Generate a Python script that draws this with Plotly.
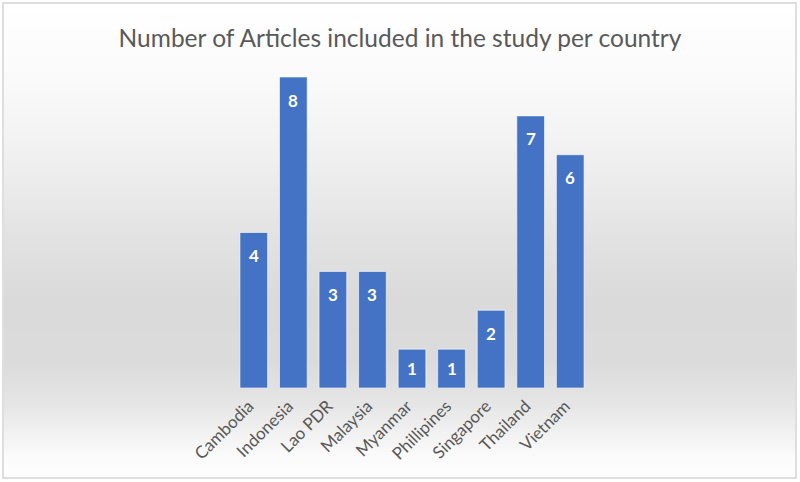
import plotly.graph_objects as go

countries = ["Cambodia", "Indonesia", "Lao PDR", "Malaysia", "Myanmar",
             "Phillipines", "Singapore", "Thailand", "Vietnam"]
articles = [4, 8, 3, 3, 1, 1, 2, 7, 6]

title_text = "Number of Articles included in the study per country"

W, H = 800, 482
L, R, T, B = 234, 590, 77, 388  # plot area pixel box


def px(xp):
    return (xp - L) / (R - L)


def py(yp):
    return (B - yp) / (B - T)


fig = go.Figure()
fig.add_trace(go.Bar(
    x=countries, y=articles,
    marker=dict(color="#4472C4", line=dict(color="rgba(255,255,255,0.6)", width=1)),
    hoverinfo="x+y",
))

# background gradient bands (decoration)
stops = [(3, 255), (80, 250), (150, 241), (240, 226), (300, 218), (360, 219),
         (400, 228), (430, 240), (455, 250), (477, 254)]


def gray_at(y):
    for (y0, g0), (y1, g1) in zip(stops[:-1], stops[1:]):
        if y0 <= y <= y1:
            return g0 + (g1 - g0) * (y - y0) / (y1 - y0)
    return 255


shapes = []
step = 4
y = 4
while y < 477:
    y2 = min(y + step, 477)
    g = int(round(gray_at((y + y2) / 2)))
    shapes.append(dict(type="rect", xref="paper", yref="paper", layer="below",
                       x0=px(4), x1=px(795), y0=py(y2), y1=py(y),
                       fillcolor=f"rgb({g},{g},{g})", line=dict(width=0)))
    y = y2
shapes.append(dict(type="rect", xref="paper", yref="paper", layer="above",
                   x0=px(3), x1=px(796), y0=py(478), y1=py(3),
                   fillcolor="rgba(0,0,0,0)", line=dict(color="#d4d4d4", width=1.5)))

annotations = []
for c, v in zip(countries, articles):
    annotations.append(dict(x=c, y=v, xref="x", yref="y", text=f"<b>{v}</b>",
                            showarrow=False, yshift=-23 if v > 1 else -19,
                            font=dict(family="Lato, Open Sans, sans-serif", size=17, color="white")))

fig.update_layout(
    width=W, height=H,
    margin=dict(l=L, r=W - R, t=T, b=H - B, pad=0, autoexpand=False),
    paper_bgcolor="white", plot_bgcolor="rgba(0,0,0,0)",
    title=dict(text=title_text, x=0.5, xanchor="center", xref="container",
               y=1 - 38 / H, yref="container", yanchor="middle",
               font=dict(family="Lato, Open Sans, sans-serif", size=24.5, color="#595959")),
    bargap=0.3,
    showlegend=False,
    shapes=shapes,
    annotations=annotations,
    xaxis=dict(type="category", tickangle=-45, showgrid=False, showline=False,
               automargin=False, ticks="", ticklabelshift=-5, ticklabelstandoff=4,
               tickfont=dict(family="Lato, Open Sans, sans-serif", size=17, color="#595959")),
    yaxis=dict(range=[0, 8], visible=False, showgrid=False, automargin=False),
)

fig.write_html("out.html", config={"displayModeBar": False},
               post_script="document.body.style.margin='0';document.body.style.overflow='hidden';")
